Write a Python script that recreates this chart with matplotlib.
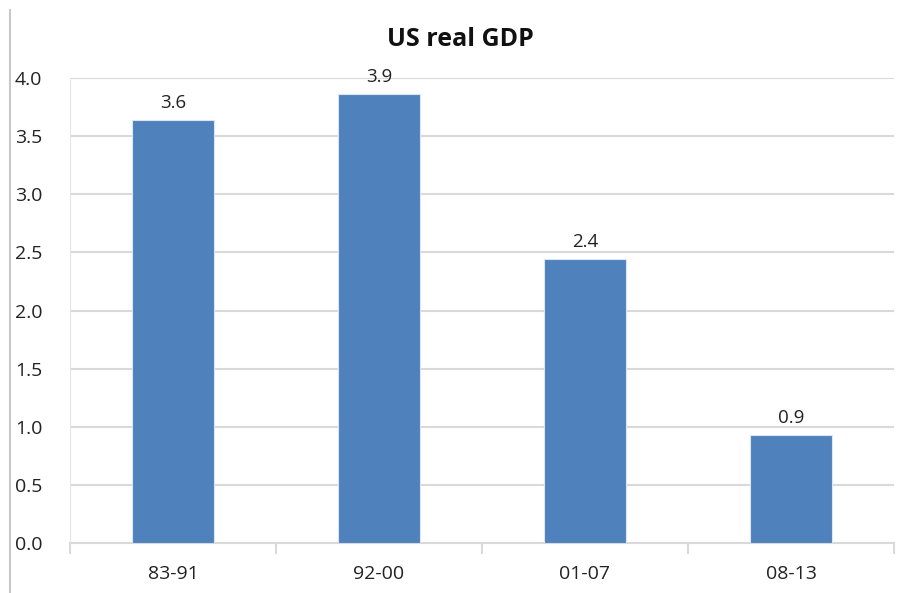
import matplotlib
matplotlib.use("Agg")
import matplotlib.pyplot as plt
from matplotlib.lines import Line2D

periods = ["83-91", "92-00", "01-07", "08-13"]
growth = [3.64, 3.86, 2.44, 0.93]
yticks = [0.0, 0.5, 1.0, 1.5, 2.0, 2.5, 3.0, 3.5, 4.0]

plt.rcParams["font.family"] = ["Open Sans", "DejaVu Sans"]

W, H = 898, 593
fig = plt.figure(figsize=(W / 100, H / 100), dpi=100)
ax = fig.add_axes([70 / W, 1 - 543 / H, (894 - 70) / W, (543 - 78) / H])

x = list(range(len(periods)))
bars = ax.bar(x, growth, width=0.4, color="#4f81bd", edgecolor="#dce6f2",
              linewidth=0.8, zorder=3)
for b, v in zip(bars, growth):
    ax.annotate(f"{v:.1f}", (b.get_x() + b.get_width() / 2, v),
                xytext=(0, 6), textcoords="offset points",
                ha="center", va="bottom", fontsize=13.5, color="#222222")

ax.set_xlim(-0.5, len(periods) - 0.5)
ax.set_ylim(0, 4.0)
ax.set_yticks(yticks)
ax.set_yticklabels([f"{t:.1f}" for t in yticks], fontsize=14, color="#222222")
ax.set_xticks(x)
ax.set_xticklabels(periods, fontsize=14, color="#222222")
ax.tick_params(axis="y", length=0, pad=20)
ax.tick_params(axis="x", length=0, pad=16)

# category separators below the base line
for sep in [-0.5, 0.5, 1.5, 2.5, 3.5]:
    ax.plot([sep, sep], [0, -0.09], color="#d9d9d9", lw=1.5,
            clip_on=False, zorder=2)

ax.grid(axis="y", color="#d9d9d9", lw=1.5, zorder=0)
for s in ["top", "right"]:
    ax.spines[s].set_visible(False)
ax.spines["left"].set_color("#e6e6e6")
ax.spines["left"].set_bounds(0, 4.0)
ax.spines["bottom"].set_color("#d9d9d9")
ax.spines["bottom"].set_linewidth(1.5)

# chart frame edge on the left
fig.add_artist(Line2D([10 / W, 10 / W], [0, 1 - 10 / H],
                      transform=fig.transFigure, color="#c8c8c8", lw=1.5))

fig.text(460 / W, 1 - 40 / H, "US real GDP", ha="center", va="center",
         fontsize=18, fontweight="bold", color="#111111")

fig.savefig("out.png", dpi=100, facecolor="white")
